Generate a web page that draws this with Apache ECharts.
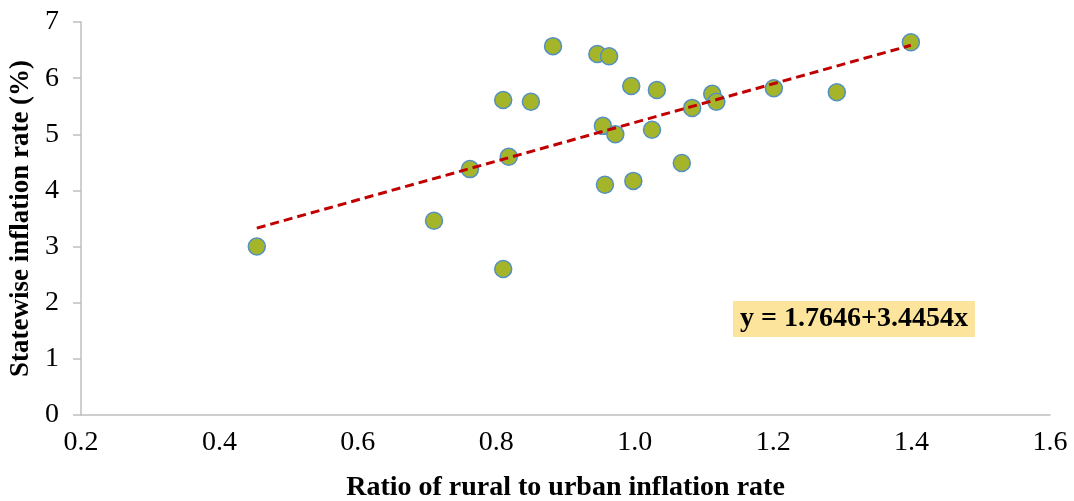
<!DOCTYPE html>
<html>
<head>
<meta charset="utf-8">
<script src="https://cdn.jsdelivr.net/npm/echarts@6/dist/echarts.min.js"></script>
<style>
  html, body { margin: 0; padding: 0; background: #fff; }
  #chart { width: 1074px; height: 501px; }
</style>
</head>
<body>
<div id="chart"></div>
<script>
  // ratio of rural to urban inflation rate
  var ratio = [0.454, 0.710, 0.762, 0.810, 0.810, 0.818, 0.850, 0.882, 0.946, 0.963, 0.954, 0.957,
               0.972, 0.995, 0.998, 1.025, 1.032, 1.068, 1.083, 1.112, 1.118, 1.201, 1.292, 1.399];
  // statewise inflation rate (%)
  var inflation = [3.00, 3.46, 4.38, 2.60, 5.61, 4.60, 5.58, 6.57, 6.43, 6.39, 5.15, 4.10,
                   5.00, 5.86, 4.17, 5.08, 5.79, 4.49, 5.47, 5.72, 5.58, 5.82, 5.75, 6.64];

  // fitted line  y = a + b x
  var intercept = 1.7646;
  var slope = 3.4454;
  var trendX = [0.454, 1.399];

  var points = [];
  for (var i = 0; i < ratio.length; i++) {
    points.push([ratio[i], inflation[i]]);
  }
  var trend = trendX.map(function (x) { return [x, intercept + slope * x]; });

  var font = '"Liberation Serif", "Times New Roman", serif';

  var chart = echarts.init(document.getElementById('chart'));
  chart.setOption({
    animation: false,
    textStyle: { fontFamily: font },
    grid: { left: 81, right: 24, top: 22, bottom: 86, containLabel: false, outerBoundsMode: 'none' },
    xAxis: {
      type: 'value',
      min: 0.2,
      max: 1.6,
      interval: 0.2,
      name: 'Ratio of rural to urban inflation rate',
      nameLocation: 'middle',
      nameGap: 59,
      nameTextStyle: { fontFamily: font, fontSize: 28, fontWeight: 'bold', color: '#000' },
      axisLine: { show: true, lineStyle: { color: '#BFBFBF', width: 1.5 } },
      axisTick: { show: false },
      splitLine: { show: false },
      axisLabel: {
        fontFamily: font, fontSize: 28, color: '#000', margin: 14,
        formatter: function (v) { return v.toFixed(1); }
      }
    },
    yAxis: {
      type: 'value',
      min: 0,
      max: 7,
      interval: 1,
      name: 'Statewise inflation rate (%)',
      nameLocation: 'middle',
      nameGap: 46,
      nameTextStyle: { fontFamily: font, fontSize: 27, fontWeight: 'bold', color: '#000' },
      axisLine: { show: true, lineStyle: { color: '#BFBFBF', width: 1.5 } },
      axisTick: { show: true, length: 8, lineStyle: { color: '#BFBFBF', width: 1.5 } },
      splitLine: { show: false },
      axisLabel: { fontFamily: font, fontSize: 28, color: '#000', margin: 22 }
    },
    series: [
      {
        type: 'line',
        data: trend,
        symbol: 'none',
        z: 3,
        lineStyle: { color: '#C00000', width: 3, type: [9, 5] }
      },
      {
        type: 'scatter',
        data: points,
        symbolSize: 17,
        z: 2,
        itemStyle: { color: '#A5B52A', borderColor: '#5490C2', borderWidth: 1.5, opacity: 1 }
      }
    ],
    graphic: [
      {
        type: 'text',
        left: 733,
        top: 301,
        style: {
          text: 'y = 1.7646+3.4454x',
          font: 'bold 28px ' + font,
          fill: '#000',
          backgroundColor: '#FCE49C',
          padding: [4, 7, 4, 7]
        }
      }
    ]
  });
</script>
</body>
</html>
